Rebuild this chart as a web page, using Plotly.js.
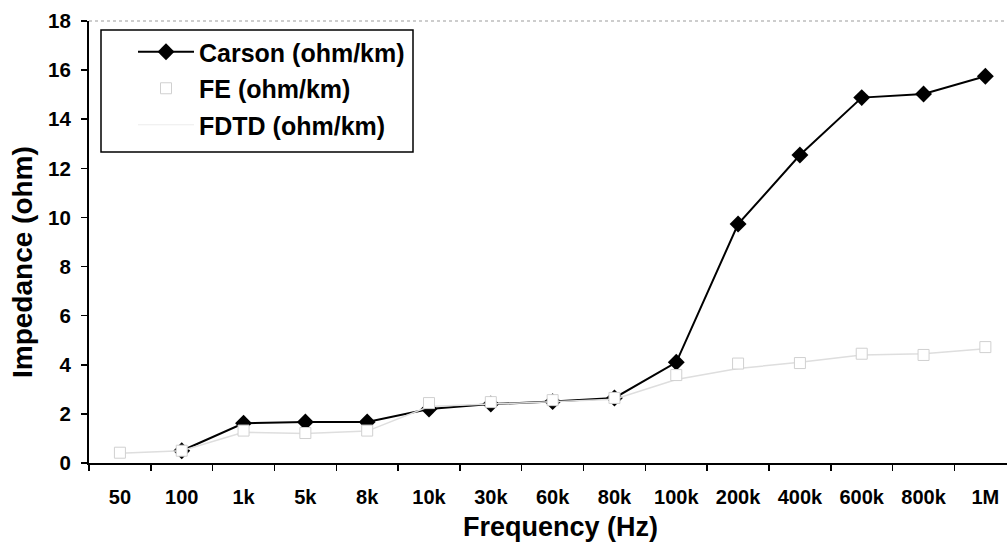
<!DOCTYPE html>
<html>
<head>
<meta charset="utf-8">
<script src="https://cdn.plot.ly/plotly-3.0.1.min.js"></script>
<style>html,body{margin:0;padding:0;background:#fff;}#chart{width:1007px;height:550px;}</style>
</head>
<body>
<div id="chart"></div>
<script>
const categories = ["50","100","1k","5k","8k","10k","30k","60k","80k","100k","200k","400k","600k","800k","1M"];
const carson = [null, 0.5, 1.62, 1.67, 1.67, 2.2, 2.4, 2.5, 2.65, 4.1, 9.73, 12.54, 14.88, 15.03, 15.75];
const fe     = [0.42, 0.5, 1.32, 1.22, 1.32, 2.44, 2.48, 2.56, 2.65, 3.58, 4.05, 4.07, 4.45, 4.4, 4.72];
const fdtd   = [0.4, 0.5, 1.25, 1.2, 1.3, 2.3, 2.4, 2.5, 2.6, 3.4, 3.85, 4.1, 4.4, 4.45, 4.65];

const FONT = "Liberation Sans, Arial, sans-serif";
// plot area: left 89, right 1007 (918px), top 21, bottom 463 (442px)
const PW = 918, PH = 442, PL = 89, PT = 21;
const px = v => (v - PL) / PW;
const py = v => (PT + PH - v) / PH;

const traces = [
  {x: categories, y: carson, name: "Carson (ohm/km)", type: "scatter", mode: "lines+markers",
   line: {color: "#000", width: 2}, marker: {symbol: "diamond", size: 13, color: "#000"},
   legendgroup: "a", connectgaps: false},
  {x: categories, y: fdtd, name: "FDTD (ohm/km)", type: "scatter", mode: "lines",
   line: {color: "#dedede", width: 1.5}, legendgroup: "c", showlegend: false},
  {x: categories, y: fe, name: "FE (ohm/km)", type: "scatter", mode: "markers",
   marker: {symbol: "square", size: 11, color: "#fff", line: {color: "#d0d0d0", width: 1}},
   legendgroup: "b"},
  {x: [null], y: [null], name: "FDTD (ohm/km)", type: "scatter", mode: "lines",
   line: {color: "#ececec", width: 1}, legendgroup: "c"}
];

const layout = {
  width: 1007, height: 550,
  margin: {l: 89, r: 0, t: 21, b: 87},
  paper_bgcolor: "#fff", plot_bgcolor: "#fff",
  font: {family: FONT, color: "#000", size: 20, weight: "bold"},
  showlegend: true,
  legend: {x: px(133), y: py(29), xanchor: "left", yanchor: "top",
    borderwidth: 0, bgcolor: "rgba(0,0,0,0)",
    font: {family: FONT, size: 25, weight: "bold", color: "#000"},
    tracegroupgap: 1, traceorder: "grouped", itemwidth: 56},
  xaxis: {type: "category", range: [-0.5, 14.35], showgrid: false, zeroline: false,
    showline: true, linecolor: "#000", linewidth: 2,
    ticks: "outside", ticklen: 6, tickwidth: 1.5, tickcolor: "#000", tickson: "boundaries",
    tickfont: {family: FONT, size: 20, weight: "bold"}, ticklabelstandoff: 15},
  yaxis: {range: [0, 18], dtick: 2, showgrid: false, zeroline: false,
    showline: true, linecolor: "#000", linewidth: 2,
    ticks: "outside", ticklen: 6, tickwidth: 1.5, tickcolor: "#000",
    tickfont: {family: FONT, size: 20.5, weight: "bold"}, ticklabelstandoff: 6},
  annotations: [
    {text: "Frequency (Hz)", xref: "paper", yref: "paper", x: px(560), y: py(527),
     xanchor: "center", yanchor: "middle", showarrow: false,
     font: {family: FONT, size: 27, weight: "bold", color: "#000"}},
    {text: "Impedance (ohm)", xref: "paper", yref: "paper", x: px(22), y: py(262),
     xanchor: "center", yanchor: "middle", showarrow: false, textangle: -90,
     font: {family: FONT, size: 28, weight: "bold", color: "#000"}}
  ],
  shapes: [
    {type: "line", xref: "paper", yref: "paper", x0: 0, x1: 1, y0: 1, y1: 1,
     line: {color: "#bdbdbd", width: 1.5, dash: "dot"}},
    {type: "rect", xref: "paper", yref: "paper", x0: px(101), x1: px(413), y0: py(30), y1: py(152),
     line: {color: "#000", width: 1.5}, fillcolor: "rgba(0,0,0,0)", layer: "above"}
  ]
};

Plotly.newPlot("chart", traces, layout, {displayModeBar: false, staticPlot: true});
</script>
</body>
</html>
